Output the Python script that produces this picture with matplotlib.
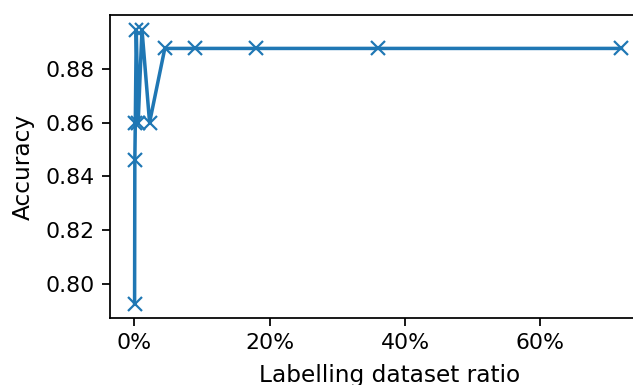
import matplotlib
matplotlib.use("Agg")
import matplotlib.pyplot as plt
from matplotlib.ticker import PercentFormatter

# labelling ratio halves each step from 72%
ratios = [0.72 / 2**k for k in range(11, -1, -1)]
accuracy = [0.7926, 0.8460, 0.8600, 0.8945, 0.8600, 0.8945,
            0.8600, 0.8875, 0.8875, 0.8875, 0.8875, 0.8875]

DPI = 158
fig = plt.figure(figsize=(633 / DPI, 385 / DPI), dpi=DPI)
# axes runs past the right edge of the figure, as in the cropped original
ax = fig.add_axes([110 / 633, 67 / 385, 560 / 633, 303 / 385])

ax.plot(ratios, accuracy, marker="x", color="#1f77b4", linewidth=1.6)
ax.set_xlim(-0.036, -0.036 + 560 / 676.5)
ax.set_ylim(0.7875, 0.8999)
ax.spines["right"].set_visible(False)
ax.xaxis.set_major_formatter(PercentFormatter(xmax=1, decimals=0))
ax.set_yticks([0.80, 0.82, 0.84, 0.86, 0.88])
ax.set_xticks([0, 0.2, 0.4, 0.6])
ax.set_xlabel("Labelling dataset ratio", fontsize=10.6, labelpad=5)
ax.set_ylabel("Accuracy", fontsize=10.6, labelpad=5)

fig.savefig("out.png", dpi=DPI)
